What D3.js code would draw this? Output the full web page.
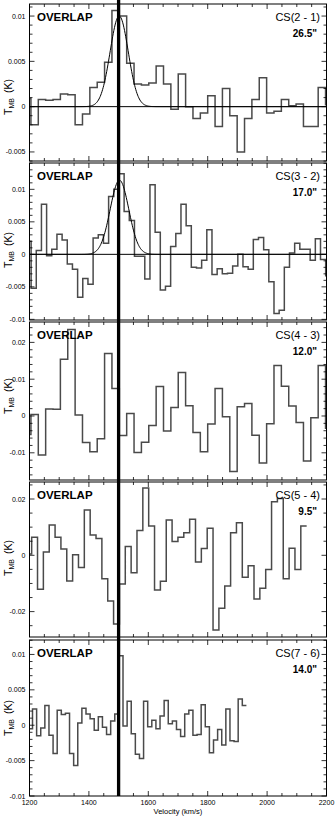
<!DOCTYPE html>
<html lang="en">
  <head>
    <meta charset="utf-8">
    <script src="https://d3js.org/d3.v7.min.js"></script>
    <style>
      body {margin: 0; background: white;}
      svg {display: block; font-family: "Liberation Sans", Arial, sans-serif;}
      .spec {fill: none; stroke: #4a4a4a; stroke-width: 1.5;}
      .fit {fill: none; stroke: black; stroke-width: 1;}
      .tick-label {font-size: 7px;}
    </style>
  </head>
  <body>
    <script type="text/javascript">
      // spectra of the OVERLAP region, one panel per CS transition
      const lineNames = ["CS(2 - 1)", "CS(3 - 2)", "CS(4 - 3)", "CS(5 - 4)", "CS(7 - 6)"];
      const beamSizes = ['26.5"', '17.0"', '12.0"', '9.5"', '14.0"'];

      // first channel edge and channel width (km/s)
      const chanStart = [1180, 1188, 1180, 1187.6, 1196.3];
      const chanWidth = [24.8, 17.4, 24.8, 19.7, 13.85];

      // main beam temperatures (K), one value per channel
      const tmb21 = [0.0009, -0.002, 0.0008, 0.0007, 0.0008, 0.0014, 0.0013, -0.002, -0.0008, 0.0021,
        0.0027, 0.0049, 0.0106, 0.0100, 0.0048, 0.0025, 0.0024, 0.0026, 0.0045, 0.0025,
        -0.0003, 0.0036, 0.0000, -0.0013, -0.0007, 0.0012, -0.0022, 0.0020, -0.0010, -0.0050,
        -0.0013, 0.0008, 0.0032, -0.0007, -0.0005, 0.0008, 0.0001, 0.0003, -0.0022, -0.0022,
        0.0021, 0.0002];
      const tmb32 = [0.002, -0.0052, 0.0006, 0.0077, -0.0002, 0.0008, 0.0031, 0.0022, -0.0015, -0.0023,
        -0.0066, -0.0037, -0.0046, 0.0025, 0.0030, 0.0017, 0.0089, 0.0100,
        0.0124, 0.0066, 0.0052, -0.0003, -0.0003, -0.0038, 0.0107, 0.0034, -0.0055, -0.0049,
        0.0012, 0.0032, 0.0077, 0.0044, -0.0020, -0.0021, -0.0009, 0.0038, -0.0031, -0.0022,
        -0.0030, -0.0029, -0.0018, 0.0000, -0.0019, -0.0023, 0.0023, 0.0026, 0.0007, -0.0042,
        -0.0091, -0.0086, -0.002, 0.0002, 0.0017, 0.0008, 0.0008, -0.0009, 0.0024, -0.0008,
        -0.0033, 0.0026];
      const tmb43 = [-0.005, 0.0004, -0.0106, 0.0019, 0.0018, 0.0154, 0.0235, 0.0003, -0.0072, -0.0097,
        -0.0062, 0.017, 0.0075, -0.0053, 0.0007, -0.0099, -0.0071, -0.0026, 0.008, -0.0041,
        0.0023, 0.0118, 0.0028, -0.0045, -0.0097, -0.0022, 0.0075, -0.0002, -0.0151, 0.0025,
        0.0034, -0.0052, -0.0128, -0.0021, 0.0137, 0.0081, 0.0027, -0.0018, -0.0122, -0.0005,
        0.0137, -0.0033];
      const tmb54 = [0.0005, 0.0064, -0.0121, 0.0012, 0.0108, 0.0064, 0.0022, -0.0091, 0.0002, -0.0043,
        0.0161, 0.0072, 0.006, -0.0083, -0.0162, -0.0244, -0.0102, 0.0031, -0.0062, 0.0088,
        0.0239, 0.0104, -0.0123, -0.0092, 0.0125, 0.0049, 0.0064, 0.008, 0.0128, -0.0024,
        0.0024, 0.0096, -0.0265, -0.0188, -0.0109, 0.008, 0.0116, -0.0078, -0.0037, -0.0155,
        -0.0117, -0.005, 0.019, 0.0202, -0.0083, 0.0025, -0.005, 0.0104];
      const tmb76 = [-0.0005, 0.0023, -0.0015, -0.0004, 0.0028, -0.0014, -0.004, 0.0021, 0.0015, 0.0017,
        -0.004, -0.0057, 0.0003, 0.0024, 0.0016, 0.0009, -0.0007, 0.0012, -0.0003, -0.0013,
        0.0006, 0.0016,
        0.0098, -0.0001, 0.0034, -0.0012, -0.0041, -0.0047, 0.0034, -0.0002, 0.0007, -0.0005,
        0.0013, 0.0035, 0.0002, 0.0006, -0.0006, -0.0016, 0.0016, 0.0021, -0.0014, -0.0013,
        0.0029, -0.0002, -0.0039, -0.0021, -0.0006, -0.0028, 0.0023, -0.0022, -0.0023, 0.0037,
        0.0028];
      const spectra = [tmb21, tmb32, tmb43, tmb54, tmb76];

      // gaussian fits (only the two lowest transitions)
      const fitAmp = [0.0100, 0.0114];
      const fitCenter = [1502, 1503];
      const fitFwhm = [72, 74];

      // axis ticks
      const velocityTicks = [1200, 1400, 1600, 1800, 2000, 2200];
      const yTicks = [
        [-0.005, 0, 0.005, 0.01],
        [-0.01, -0.005, 0, 0.005, 0.01],
        [-0.01, 0, 0.01, 0.02],
        [-0.02, 0, 0.02],
        [-0.01, -0.005, 0, 0.005, 0.01]
      ];
      const yMinorStep = [0.001, 0.001, 0.002, 0.005, 0.001];
      const yDomains = [[-0.006, 0.01133], [-0.0101, 0.01405], [-0.01739, 0.02554],
        [-0.02902, 0.02604], [-0.01, 0.01204]];
      const markVelocity = 1500;

      // layout
      const w = 336;
      const h = 816;
      const left = 29.5;
      const right = 326.5;
      const panelTops = [4, 163, 322, 482, 640];
      const panelBottoms = [161, 320, 480, 637, 796];
      const labelCenters = [97, 250, 396, 558, 718];

      var svg = d3.select("body")
            .append("svg")
            .attr("width", w)
            .attr("height", h);

      var xScale = d3.scaleLinear()
            .domain([1200, 2200])
            .range([left, right]);

      spectra.forEach(function(values, p) {
        const top = panelTops[p];
        const bottom = panelBottoms[p];
        var yScale = d3.scaleLinear()
              .domain(yDomains[p])
              .range([bottom, top]);

        var g = svg.append("g");

        // clip everything to the frame
        g.append("clipPath")
            .attr("id", "clip" + p)
            .append("rect")
            .attr("x", left)
            .attr("y", top)
            .attr("width", right - left)
            .attr("height", bottom - top);

        var plot = g.append("g").attr("clip-path", "url(#clip" + p + ")");

        // step histogram
        let pts = [];
        values.forEach(function(v, i) {
          let v1 = chanStart[p] + i * chanWidth[p];
          pts.push([v1, v]);
          pts.push([v1 + chanWidth[p], v]);
        });
        var line = d3.line()
              .x(function(d) { return xScale(d[0]); })
              .y(function(d) { return yScale(d[1]); });
        plot.append("path")
            .attr("class", "spec")
            .attr("d", line(pts));

        // baseline and gaussian fit
        if (p < fitAmp.length) {
          plot.append("line")
              .attr("class", "fit")
              .attr("x1", left).attr("x2", right)
              .attr("y1", yScale(0)).attr("y2", yScale(0));
          let sig = fitFwhm[p] / 2.3548;
          let curve = d3.range(1200, 2201, 2).map(function(v) {
            return [v, fitAmp[p] * Math.exp(-0.5 * Math.pow((v - fitCenter[p]) / sig, 2))];
          });
          plot.append("path")
              .attr("class", "fit")
              .attr("d", line(curve));
        }

        // frame
        g.append("rect")
            .attr("x", left)
            .attr("y", top)
            .attr("width", right - left)
            .attr("height", bottom - top)
            .attr("fill", "none")
            .attr("stroke", "black")
            .attr("stroke-width", 1);

        // x ticks on top and bottom, pointing inwards
        let xMinor = d3.range(1200, 2201, 50);
        let xTickG = g.append("g").attr("stroke", "black").attr("stroke-width", 0.8);
        xMinor.forEach(function(v) {
          let len = (v % 200 === 0) ? 5 : 3;
          xTickG.append("line")
              .attr("x1", xScale(v)).attr("x2", xScale(v))
              .attr("y1", bottom).attr("y2", bottom - len);
          xTickG.append("line")
              .attr("x1", xScale(v)).attr("x2", xScale(v))
              .attr("y1", top).attr("y2", top + len);
        });

        // y ticks on left and right
        let yMinor = d3.range(Math.ceil(yDomains[p][0] / yMinorStep[p] - 1e-6),
                              Math.floor(yDomains[p][1] / yMinorStep[p] + 1e-6) + 1)
              .map(function(k) { return k * yMinorStep[p]; });
        yMinor.forEach(function(v) {
          let major = yTicks[p].some(function(t) { return Math.abs(t - v) < 1e-9; });
          let len = major ? 5 : 3;
          xTickG.append("line")
              .attr("x1", left).attr("x2", left + len)
              .attr("y1", yScale(v)).attr("y2", yScale(v));
          xTickG.append("line")
              .attr("x1", right).attr("x2", right - len)
              .attr("y1", yScale(v)).attr("y2", yScale(v));
        });

        // y tick labels
        g.selectAll(".ylab")
            .data(yTicks[p])
            .enter()
            .append("text")
            .attr("class", "tick-label")
            .attr("x", left - 4)
            .attr("y", function(d) { return yScale(d) + 2.5; })
            .attr("text-anchor", "end")
            .text(function(d) { return d === 0 ? "0" : String(+d.toFixed(3)); });

        // y axis title
        let yt = g.append("text")
            .attr("transform", "translate(12," + labelCenters[p] + ") rotate(-90)")
            .attr("text-anchor", "middle")
            .attr("font-size", 10.5);
        yt.append("tspan").text("T");
        yt.append("tspan").attr("font-size", 7).attr("dy", 2).text("MB");
        yt.append("tspan").attr("dy", -2).attr("dx", 5).text("(K)");

        // panel texts
        g.append("text")
            .attr("x", 37)
            .attr("y", top + 17)
            .attr("font-size", 11.5)
            .attr("font-weight", "bold")
            .text("OVERLAP");
        g.append("text")
            .attr("x", 320)
            .attr("y", top + 17)
            .attr("text-anchor", "end")
            .attr("font-size", 11)
            .text(lineNames[p]);
        g.append("text")
            .attr("x", 317)
            .attr("y", top + 33)
            .attr("text-anchor", "end")
            .attr("font-size", 10)
            .attr("font-weight", "bold")
            .text(beamSizes[p]);
      });

      // velocity tick labels on bottom panel
      svg.selectAll(".xlab")
          .data(velocityTicks)
          .enter()
          .append("text")
          .attr("class", "tick-label")
          .attr("x", function(d) { return xScale(d); })
          .attr("y", panelBottoms[4] + 9)
          .attr("text-anchor", "middle")
          .text(function(d) { return d; });
      svg.append("text")
          .attr("x", (left + right) / 2)
          .attr("y", 814)
          .attr("text-anchor", "middle")
          .attr("font-size", 7.5)
          .text("Velocity (km/s)");

      // bold marker at 1500 km/s through all panels
      svg.append("line")
          .attr("x1", xScale(markVelocity)).attr("x2", xScale(markVelocity))
          .attr("y1", 0).attr("y2", panelBottoms[4])
          .attr("stroke", "black")
          .attr("stroke-width", 3.3);
    </script>
  </body>
</html>
